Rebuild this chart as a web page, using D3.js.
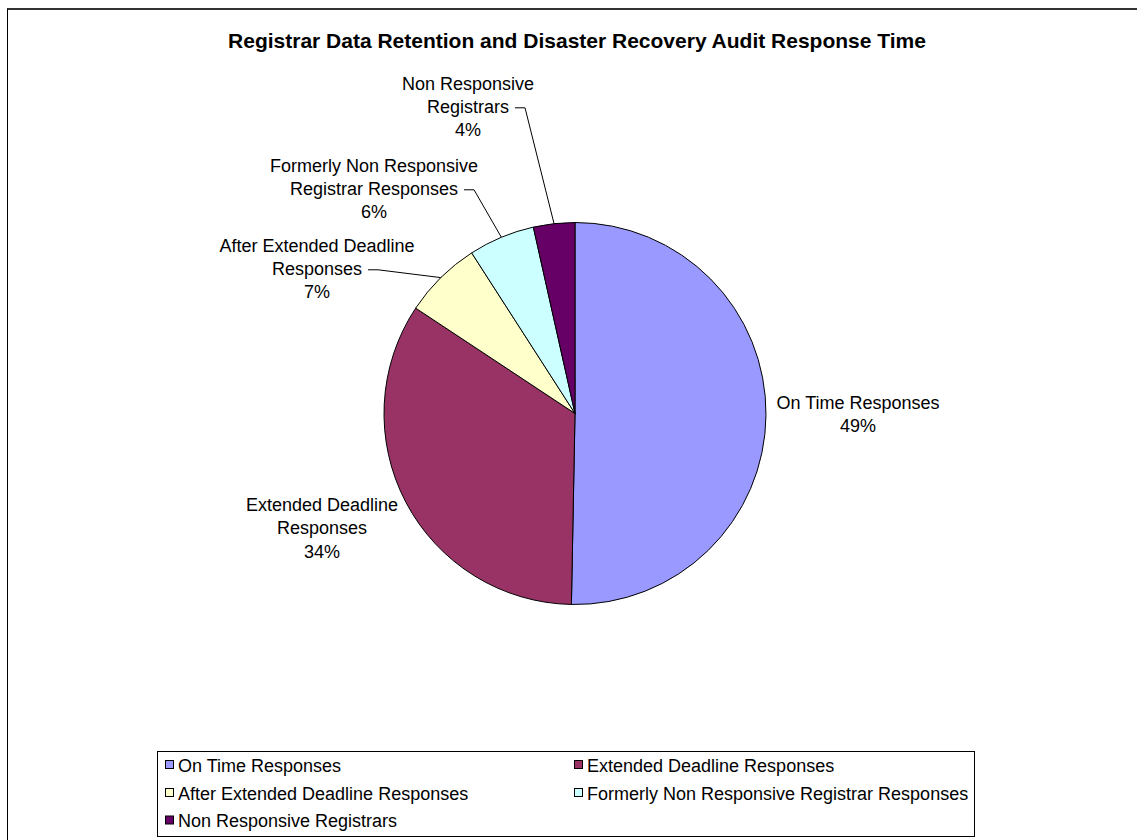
<!DOCTYPE html>
<html>
<head>
<meta charset="utf-8">
<script src="https://cdn.jsdelivr.net/npm/d3@7"></script>
<style>
  body { margin: 0; background: #fff; }
  svg { display: block; font-family: "Liberation Sans", Arial, sans-serif; }
</style>
</head>
<body>
<svg id="chart" width="1137" height="840"></svg>
<script>
// categories, in the order the slices run clockwise from 12 o'clock
const categories = [
  "On Time Responses",
  "Extended Deadline Responses",
  "After Extended Deadline Responses",
  "Formerly Non Responsive Registrar Responses",
  "Non Responsive Registrars"
];
// share of registrars
const shares = [50.3, 34.0, 6.6, 5.6, 3.5];
// percentage text as printed on the chart
const pctLabels = ["49%", "34%", "7%", "6%", "4%"];
// how the data labels are broken into lines
const labelLines = [
  ["On Time Responses"],
  ["Extended Deadline", "Responses"],
  ["After Extended Deadline", "Responses"],
  ["Formerly Non Responsive", "Registrar Responses"],
  ["Non Responsive", "Registrars"]
];
const colors = ["#9999ff", "#993366", "#ffffcc", "#ccffff", "#660066"];

const svg = d3.select("#chart");
const width = +svg.attr("width");
const height = +svg.attr("height");

// outer frame (only top and left edges show in the picture)
svg.append("line").attr("x1", 7).attr("y1", 9).attr("x2", width).attr("y2", 9)
  .attr("stroke", "#333").attr("stroke-width", 2);
svg.append("line").attr("x1", 7.5).attr("y1", 9).attr("x2", 7.5).attr("y2", height)
  .attr("stroke", "#000").attr("stroke-width", 1);

svg.append("text")
  .attr("x", 577).attr("y", 48)
  .attr("text-anchor", "middle")
  .style("font-size", "21px").style("font-weight", "bold")
  .text("Registrar Data Retention and Disaster Recovery Audit Response Time");

const cx = 575, cy = 413.5, r = 191;
const data = categories.map((c, i) => ({ name: c, value: shares[i], pct: pctLabels[i], lines: labelLines[i], color: colors[i] }));

const pie = d3.pie().sort(null).value(d => d.value);
const arc = d3.arc().innerRadius(0).outerRadius(r);
const arcs = pie(data);

const g = svg.append("g").attr("transform", `translate(${cx},${cy})`);
g.selectAll("path.slice")
  .data(arcs)
  .enter().append("path")
    .attr("class", "slice")
    .attr("d", arc)
    .attr("fill", d => d.data.color)
    .attr("stroke", "#000")
    .attr("stroke-width", 1);

// data label placement (centre x of block, first baseline) - set by hand like Excel
const labelPlace = [
  [858, 409],
  [322, 511],
  [317, 251.5],
  [374, 171.5],
  [468, 89.5]
];
const lineH = 23.3;

arcs.forEach((a, i) => {
  const [lx, ly] = labelPlace[i];
  const rows = a.data.lines.concat([a.data.pct]);
  const t = svg.append("text")
    .attr("text-anchor", "middle")
    .style("font-size", "18px")
    .attr("fill", "#000");
  const spans = rows.map((row, k) => t.append("tspan")
    .attr("x", lx).attr("y", ly + k * lineH).text(row));

  // leader lines for the small slices on the upper left
  if (i >= 2) {
    const mid = (a.startAngle + a.endAngle) / 2;
    const ex = cx + r * Math.sin(mid), ey = cy - r * Math.cos(mid);
    const w = spans[1].node().getComputedTextLength();
    const sx = lx + w / 2 + 6, sy = ly + lineH - 5;
    const elbowX = ex - sx < 20 ? ex : sx + 10;
    svg.append("polyline")
      .attr("points", `${sx},${sy} ${elbowX},${sy} ${ex},${ey}`)
      .attr("fill", "none").attr("stroke", "#000").attr("stroke-width", 1);
  }
});

// legend: two equal columns, box sized to fit like Excel does
const legend = svg.append("g");
const colX = [165, 574];
const rowY = [765, 793, 820.5];
legend.append("rect")
  .attr("x", 157.5).attr("y", 751.5).attr("width", 817).attr("height", 85)
  .attr("fill", "#fff").attr("stroke", "#000");
data.forEach((d, i) => {
  const x = colX[i % 2], y = rowY[Math.floor(i / 2)];
  legend.append("rect")
    .attr("x", x + 0.5).attr("y", y - 4.5).attr("width", 8).attr("height", 8)
    .attr("fill", d.color).attr("stroke", "#000");
  legend.append("text")
    .attr("x", x + 13).attr("y", y + 6.5)
    .style("font-size", "18px")
    .text(d.name);
});
</script>
</body>
</html>
